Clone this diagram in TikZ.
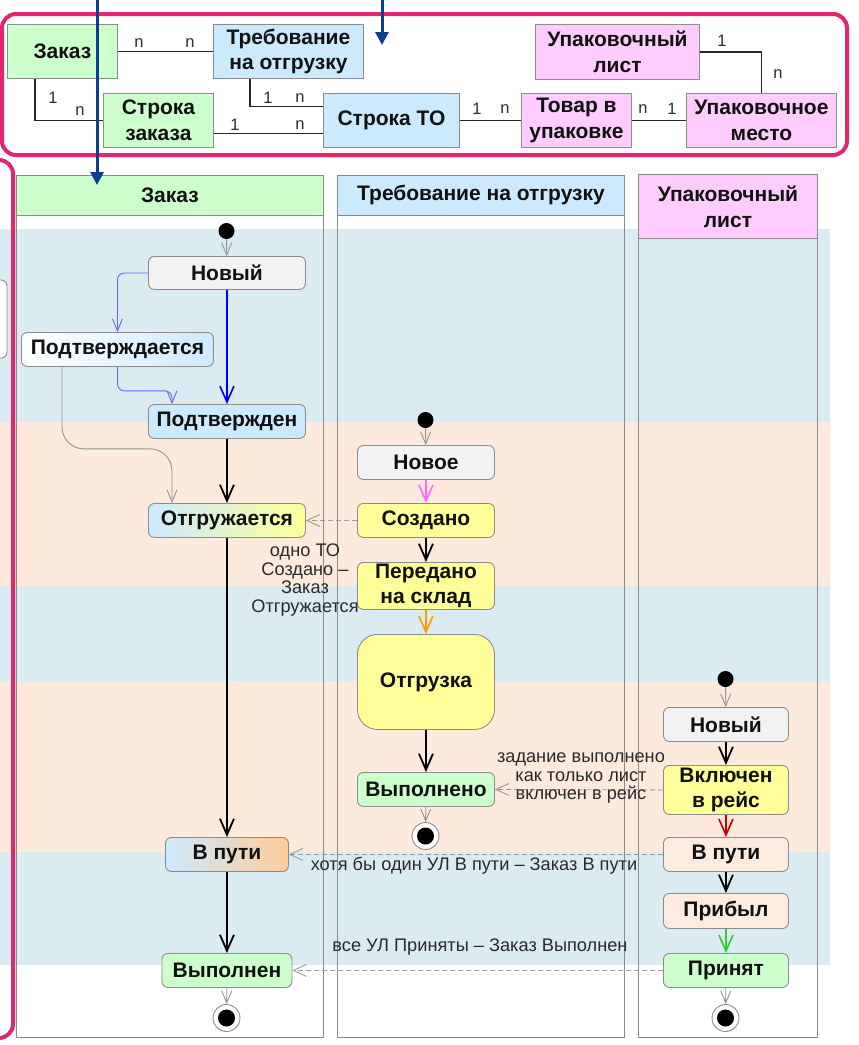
\documentclass[tikz,border=0pt]{standalone}
\usepackage{fontspec}
\setmainfont{Liberation Sans}
\usetikzlibrary{arrows.meta}

\definecolor{grn}{HTML}{CCFFCC}
\definecolor{blu}{HTML}{CCEAFF}
\definecolor{pnk}{HTML}{FFCCFF}
\definecolor{ylw}{HTML}{FFFF99}
\definecolor{gry}{HTML}{F2F2F2}
\definecolor{pch}{HTML}{FDEBDF}
\definecolor{org}{HTML}{FFCC99}
\definecolor{bandblue}{HTML}{DAECF2}
\definecolor{bandpeach}{HTML}{FDEADD}
\definecolor{framecol}{HTML}{E2266F}
\definecolor{navy}{HTML}{0D3D8E}
\definecolor{boxline}{HTML}{8C8C8C}
\definecolor{laneline}{HTML}{8A8A8A}
\definecolor{txt}{HTML}{111111}
\definecolor{lbltxt}{HTML}{2A2A2A}
\definecolor{depcol}{HTML}{999999}
\definecolor{pinkflow}{HTML}{FF66FF}
\definecolor{orangeflow}{HTML}{FF9900}
\definecolor{redflow}{HTML}{CC0000}
\definecolor{greenflow}{HTML}{33CC33}

\begin{document}
\begin{tikzpicture}[x=1pt,y=-1pt,
  ent/.style={draw=boxline, line width=0.9pt, align=center, inner sep=0pt,
    anchor=north west, text=txt, font=\bfseries\fontsize{21}{25.5}\selectfont},
  state/.style={draw=boxline, line width=0.9pt, rounded corners=6pt, align=center,
    inner sep=0pt, anchor=north west, text=txt, font=\bfseries\fontsize{21}{24.5}\selectfont},
  lanehead/.style={draw=laneline, line width=0.9pt, align=center, inner sep=0pt,
    anchor=north west, text=txt, font=\bfseries\fontsize{21}{26}\selectfont},
  lane/.style={draw=laneline, line width=0.9pt},
  card/.style={text=lbltxt, inner sep=0pt, font=\fontsize{16.5}{18}\selectfont},
  lbl/.style={text=lbltxt, inner sep=0pt, align=center, font=\fontsize{18.2}{18.5}\selectfont},
  link/.style={draw=black!85, line width=1.1pt},
  initdot/.style={circle, fill=black, minimum size=16pt, inner sep=0pt},
  finaldot/.style={circle, draw=boxline, fill=white, line width=0.9pt, minimum size=27pt, inner sep=0pt,
    path picture={\fill[black] (path picture bounding box.center) circle (8.5pt);}},
  flow/.style={line width=1.8pt, draw=black, -{Straight Barb[length=16pt,width=14pt]}},
  gflow/.style={line width=0.9pt, draw=gray!85, -{Straight Barb[length=12pt,width=10pt]}},
  lflow/.style={line width=0.9pt, draw=blue!60, rounded corners=7pt, -{Straight Barb[length=12pt,width=10pt]}},
  dep/.style={line width=0.9pt, draw=depcol, dash pattern=on 5pt off 3pt, -{Straight Barb[length=13pt,width=12pt]}},
  frame/.style={draw=framecol, line width=4pt, rounded corners=14pt},
  navyarrow/.style={draw=navy, line width=3pt, -{Triangle[length=13pt,width=13pt]}}
]
\useasboundingbox (0,0) rectangle (859,1045);
\clip (0,0) rectangle (859,1045);

% horizontal stage bands
\fill[bandblue]  (0,229) rectangle (830,422);
\fill[bandpeach] (0,422) rectangle (830,586);
\fill[bandblue]  (0,586) rectangle (830,681);
\fill[bandpeach] (0,681) rectangle (830,852);
\fill[bandblue]  (0,852) rectangle (830,965);

% box at the left border
\draw[draw=boxline, fill=white, line width=0.9pt, rounded corners=6pt] (-40,280) rectangle (7,358);

% swimlanes
\draw[lane] (16,175) rectangle (323,1037);
\draw[lane] (337,175) rectangle (624,1037);
\draw[lane] (638,174) rectangle (817,1037);
\node[lanehead, fill=grn, minimum width=307pt, minimum height=40pt] (h1) at (16,175) {Заказ};
\node[lanehead, fill=blu, minimum width=287pt, minimum height=40pt] (h2) at (337,175) {Требование на отгрузку};
\node[lanehead, fill=pnk, minimum width=179pt, minimum height=64pt] (h3) at (638,174) {Упаковочный\\лист};

% entity model
\node[ent, fill=grn, minimum width=110pt, minimum height=54pt] (zak) at (7,24) {Заказ};
\node[ent, fill=blu, minimum width=150pt, minimum height=54pt] (treb) at (213,24) {Требование\\на отгрузку};
\node[ent, fill=grn, minimum width=110pt, minimum height=54pt] (strz) at (103,93) {Строка\\заказа};
\node[ent, fill=blu, minimum width=136pt, minimum height=54pt] (strto) at (323,93) {Строка ТО};
\node[ent, fill=pnk, minimum width=110pt, minimum height=54pt] (tovar) at (521,93) {Товар в\\упаковке};
\node[ent, fill=pnk, minimum width=150pt, minimum height=54pt] (mesto) at (686,93) {Упаковочное\\место};
\node[ent, fill=pnk, minimum width=164pt, minimum height=55pt] (ulist) at (535,24) {Упаковочный\\лист};

\draw[link] (zak.east) -- (treb.west);
\draw[link] ([xshift=28pt]zak.south west) |- (strz.west);
\draw[link] ([xshift=37pt]treb.south west) |- ([yshift=14pt]strto.west);
\draw[link] ([yshift=-13pt]strz.east) -- ([yshift=-13pt]strto.west);
\draw[link] (strto.east) -- (tovar.west);
\draw[link] (tovar.east) -- (mesto.west);
\draw[link] (ulist.east) -| (mesto.north);

\node[card] (c1) at (139,43) {n};
\node[card] (c2) at (190,43) {n};
\node[card] (c3) at (53,98) {1};
\node[card] (c4) at (80,111) {n};
\node[card] (c5) at (268,98) {1};
\node[card] (c6) at (300,98) {n};
\node[card] (c7) at (235,125) {1};
\node[card] (c8) at (300,125) {n};
\node[card] (c9) at (477,109) {1};
\node[card] (c10) at (505,109) {n};
\node[card] (c11) at (643,109) {n};
\node[card] (c12) at (672,109) {1};
\node[card] (c13) at (722,41) {1};
\node[card] (c14) at (778,74) {n};

% lane: order
\node[initdot] (i1) at (226.5,231) {};
\node[state, fill=gry, minimum width=157pt, minimum height=33pt] (novy1) at (148,256) {Новый};
\node[state, left color=white, right color=blu, minimum width=192pt, minimum height=34pt] (pding) at (21,332) {Подтверждается};
\node[state, fill=blu, minimum width=157pt, minimum height=34pt] (pden) at (148,404) {Подтвержден};
\node[state, left color=blu, right color=ylw, minimum width=157pt, minimum height=34pt] (otgr) at (148,503) {Отгружается};
\node[state, left color=blu, right color=org, minimum width=123pt, minimum height=34pt] (vputi1) at (165,837) {В пути};
\node[state, fill=grn, minimum width=130pt, minimum height=34pt] (vypn) at (161.5,953) {Выполнен};
\node[finaldot] (f1) at (226.5,1018) {};

\draw[gflow] (i1) -- (novy1);
\draw[flow, draw=blue, line width=1.6pt] (novy1) -- (pden);
\draw[lflow] (novy1.west) -| (pding.north);
\draw[lflow] (pding.south) -- ++(0,24) -| ([xshift=24pt]pden.north west);
\draw[gflow, rounded corners=22pt] ([xshift=41pt]pding.south west) -- ++(0,82) -| ([xshift=24pt]otgr.north west);
\draw[flow] (pden) -- (otgr);
\draw[flow] (otgr) -- (vputi1);
\draw[flow] (vputi1) -- (vypn);
\draw[gflow] (vypn) -- (f1);

% lane: shipping request
\node[initdot] (i2) at (425.5,420) {};
\node[state, fill=gry, minimum width=137pt, minimum height=34pt] (novoe) at (357,445) {Новое};
\node[state, fill=ylw, minimum width=137pt, minimum height=34pt] (sozd) at (357,503) {Создано};
\node[state, fill=ylw, minimum width=137pt, minimum height=47pt] (pered) at (357,562) {Передано\\на склад};
\node[state, fill=ylw, rounded corners=20pt, minimum width=137pt, minimum height=95pt] (otgruzka) at (357,634) {Отгрузка};
\node[state, fill=grn, minimum width=137pt, minimum height=34pt] (vypno) at (357,772) {Выполнено};
\node[finaldot] (f2) at (425.5,836) {};

\draw[gflow] (i2) -- (novoe);
\draw[flow, draw=pinkflow, line width=1.6pt] (novoe) -- (sozd);
\draw[flow] (sozd) -- (pered);
\draw[flow, draw=orangeflow, line width=1.6pt] (pered) -- (otgruzka);
\draw[flow] (otgruzka) -- (vypno);
\draw[gflow] (vypno) -- (f2);

% lane: packing list
\node[initdot] (i3) at (725.5,679) {};
\node[state, fill=gry, minimum width=125pt, minimum height=34pt] (novy3) at (663,707) {Новый};
\node[state, fill=ylw, minimum width=125pt, minimum height=49pt] (vkl) at (663,765) {Включен\\в рейс};
\node[state, fill=pch, minimum width=125pt, minimum height=34pt] (vputi3) at (663,837) {В пути};
\node[state, fill=pch, minimum width=125pt, minimum height=35pt] (pribyl) at (663,893) {Прибыл};
\node[state, fill=grn, minimum width=125pt, minimum height=34pt] (prin) at (663,953) {Принят};
\node[finaldot] (f3) at (725.5,1018) {};

\draw[gflow] (i3) -- (novy3);
\draw[flow] (novy3) -- (vkl);
\draw[flow, draw=redflow, line width=1.6pt] (vkl) -- (vputi3);
\draw[flow] (vputi3) -- (pribyl);
\draw[flow, draw=greenflow, line width=1.6pt] (pribyl) -- (prin);
\draw[gflow] (prin) -- (f3);

% dependencies between lanes
\draw[dep] (sozd.west) -- (otgr.east);
\draw[dep] (vkl.west) -- (vypno.east);
\draw[dep] (vputi3.west) -- (vputi1.east);
\draw[dep] (prin.west) -- (vypn.east);

\node[lbl] (d1) at (305,580) {одно ТО\\Создано –\\Заказ\\Отгружается};
\node[lbl] (d2) at (581,778) {задание выполнено\\как только лист\\включен в рейс};
\node[lbl] (d3) at (474,866) {хотя бы один УЛ В пути – Заказ В пути};
\node[lbl] (d4) at (480,947) {все УЛ Приняты – Заказ Выполнен};

% highlight frames
\draw[frame] (2,14) rectangle (847,155);
\draw[frame] (-40,160) rectangle (13,1038);

% navigation arrows
\coordinate (n1s) at (97,-5);
\coordinate (n1e) at (97,185);
\coordinate (n2s) at (382,-5);
\coordinate (n2e) at (382,45);
\draw[navyarrow] (n1s) -- (n1e);
\draw[navyarrow] (n2s) -- (n2e);
\end{tikzpicture}
\end{document}
